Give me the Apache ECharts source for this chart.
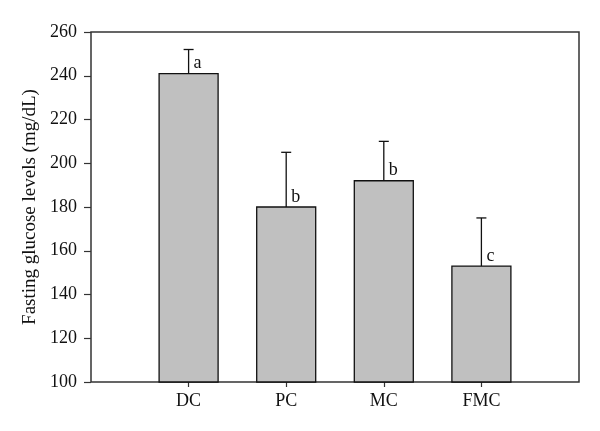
<!DOCTYPE html>
<html>
<head>
<meta charset="UTF-8">
<script src="https://cdn.jsdelivr.net/npm/echarts/dist/echarts.min.js"></script>
<style>
  html, body { margin: 0; padding: 0; background: #fff; }
  #chart { width: 600px; height: 431px; }
</style>
</head>
<body>
<div id="chart"></div>
<script>
var groups = ['DC', 'PC', 'MC', 'FMC'];
var means = [241, 180, 192, 153];
var errors = [11, 25, 18, 22];
var letters = ['a', 'b', 'b', 'c'];
var yTicks = [100, 120, 140, 160, 180, 200, 220, 240, 260];

var font = '"Liberation Serif", "DejaVu Serif", serif';
var rows = groups.map(function (g, i) { return [i + 1, means[i], errors[i], i]; });

var chart = echarts.init(document.getElementById('chart'));
chart.setOption({
  animation: false,
  grid: { left: 91, right: 21, top: 32, bottom: 49, show: true, borderColor: '#333', borderWidth: 1.5 },
  xAxis: {
    type: 'value', min: 0, max: 5, interval: 1,
    axisLine: { show: false },
    splitLine: { show: false },
    axisTick: { show: true, length: 5, customValues: [1, 2, 3, 4], lineStyle: { color: '#333', width: 1.2 } },
    axisLabel: {
      customValues: [1, 2, 3, 4],
      formatter: function (v) { return groups[v - 1] || ''; },
      fontFamily: font, fontSize: 18, color: '#111', margin: 10
    }
  },
  yAxis: {
    type: 'value', min: 100, max: 260, interval: 20,
    name: 'Fasting glucose levels (mg/dL)', nameLocation: 'middle', nameGap: 50,
    nameTextStyle: { fontFamily: font, fontSize: 19, color: '#111' },
    axisLine: { show: false },
    splitLine: { show: false },
    axisTick: { show: true, length: 7, lineStyle: { color: '#333', width: 1.2 } },
    axisLabel: {
      formatter: function (v) { return yTicks.indexOf(v) >= 0 ? String(v) : ''; },
      fontFamily: font, fontSize: 18, color: '#111', margin: 14
    }
  },
  series: [{
    type: 'custom',
    data: rows,
    encode: { x: 0, y: 1 },
    renderItem: function (params, api) {
      var x = api.value(0), m = api.value(1), e = api.value(2), idx = api.value(3);
      var base = api.coord([x, 100]);
      var top = api.coord([x, m]);
      var errTop = api.coord([x, m + e]);
      var w = 59;
      return {
        type: 'group',
        children: [
          { type: 'rect', shape: { x: top[0] - w / 2, y: top[1], width: w, height: base[1] - top[1] },
            style: { fill: '#c0c0c0', stroke: '#111', lineWidth: 1.3 } },
          { type: 'line', shape: { x1: top[0], y1: top[1], x2: errTop[0], y2: errTop[1] },
            style: { stroke: '#111', lineWidth: 1.3 } },
          { type: 'line', shape: { x1: errTop[0] - 5, y1: errTop[1], x2: errTop[0] + 5, y2: errTop[1] },
            style: { stroke: '#111', lineWidth: 1.3 } },
          { type: 'text', x: top[0] + 5, y: top[1] - 1,
            style: { text: letters[idx], fontFamily: font, fontSize: 18, fill: '#111', textAlign: 'left', textVerticalAlign: 'bottom' } }
        ]
      };
    }
  }]
});
</script>
</body>
</html>
